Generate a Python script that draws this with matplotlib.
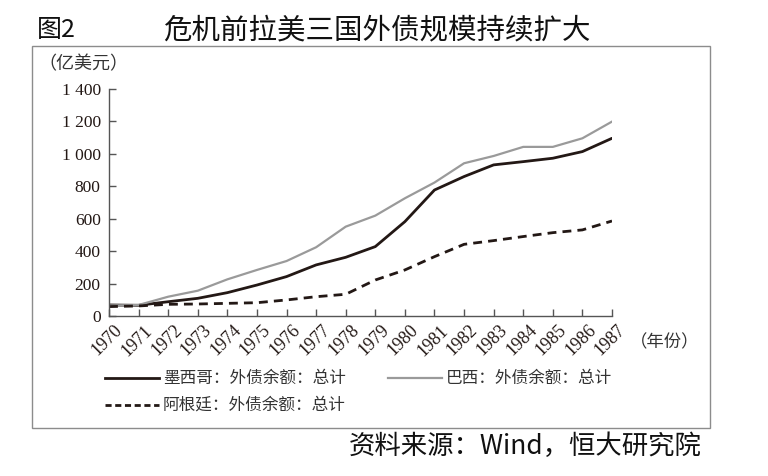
import matplotlib
matplotlib.use("Agg")
import matplotlib.pyplot as plt
from matplotlib.patches import Rectangle
from matplotlib.ticker import FuncFormatter
from matplotlib.transforms import ScaledTranslation

years = list(range(1970, 1988))
mexico = [68, 66, 88, 109, 144, 191, 243, 315, 362, 428, 582, 777, 860, 932, 952, 973, 1014, 1096]
brazil = [65, 68, 119, 156, 226, 284, 339, 424, 551, 619, 726, 823, 942, 987, 1043, 1043, 1096, 1199]
argentina = [58, 62, 72, 74, 78, 82, 99, 119, 134, 222, 284, 366, 442, 465, 490, 514, 531, 586]
yticks = [0, 200, 400, 600, 800, 1000, 1200, 1400]
labels = ["墨西哥：外债余额：总计", "巴西：外债余额：总计", "阿根廷：外债余额：总计"]
title_num = "图2"
title_text = "危机前拉美三国外债规模持续扩大"
unit = "（亿美元）"
xunit = "（年份）"
source = "资料来源：Wind，恒大研究院"

cjk = ["Noto Sans CJK SC", "DejaVu Sans"]
serif = ["Liberation Serif", "DejaVu Serif"]

W, H = 768, 476
fig = plt.figure(figsize=(W / 100, H / 100), dpi=100)

def fx(px):
    return px / W

def fy(py):
    return 1 - py / H

ax = fig.add_axes([fx(109), fy(316), fx(612) - fx(109), fy(89) - fy(316)])
ax.plot(years, mexico, color="#231815", lw=2.0, solid_capstyle="round", solid_joinstyle="round")
ax.plot(years, brazil, color="#9a9a9a", lw=1.6)
ax.plot(years, argentina, color="#231815", lw=2.0, dashes=(3.2, 2.2))

ax.set_xlim(1970, 1987)
ax.set_ylim(0, 1400)
ax.set_xticks(years)
ax.set_yticks(yticks)
ax.yaxis.set_major_formatter(FuncFormatter(lambda v, p: f"{int(v):,}".replace(",", " ")))
for s in ["top", "right"]:
    ax.spines[s].set_visible(False)
for s in ["left", "bottom"]:
    ax.spines[s].set_color("#555555")
    ax.spines[s].set_linewidth(1.0)
ax.tick_params(axis="both", direction="in", length=5, width=1.0, color="#555555")
ax.tick_params(axis="y", labelsize=12.5, pad=6)
ax.tick_params(axis="x", labelsize=13, pad=2)
for lab in ax.get_yticklabels():
    lab.set_fontfamily(serif)
    lab.set_color("#231815")
offset = ScaledTranslation(5 / 100, -3 / 100, fig.dpi_scale_trans)
for lab in ax.get_xticklabels():
    lab.set_fontfamily(serif)
    lab.set_rotation(45)
    lab.set_ha("right")
    lab.set_va("top")
    lab.set_rotation_mode("anchor")
    lab.set_color("#231815")
    lab.set_transform(lab.get_transform() + offset)

# frame
fig.patches.append(Rectangle((fx(32), fy(428)), fx(710) - fx(32), fy(46) - fy(428),
                             transform=fig.transFigure, fill=False, ec="#8c8c8c", lw=1.0))

fig.text(fx(37), fy(30), title_num, family=cjk, fontsize=18, va="center", ha="left", color="#111111")
fig.text(fx(163), fy(30), title_text, family=cjk, fontsize=20.5, va="center", ha="left", color="#111111")
fig.text(fx(38), fy(64), unit, family=cjk, fontsize=13, va="center", ha="left", color="#333333")
fig.text(fx(630), fy(342), xunit, family=cjk, fontsize=12.5, va="center", ha="left", color="#333333")
fig.text(fx(702), fy(446), source, family=cjk, fontsize=19, va="center", ha="right", color="#111111")

# legend
def leg(x0, y, color, lw, dashes, text):
    ln = plt.Line2D([fx(x0), fx(x0 + 54)], [fy(y), fy(y)], transform=fig.transFigure,
                    color=color, lw=lw)
    if dashes:
        ln.set_dashes(dashes)
    fig.lines.append(ln)
    fig.text(fx(x0 + 58), fy(y), text, family=cjk, fontsize=12, va="center", ha="left", color="#333333")

leg(105, 378, "#231815", 2.0, None, labels[0])
leg(388, 378, "#9a9a9a", 1.6, None, labels[1])
leg(105, 405, "#231815", 2.0, (2.2, 1.3), labels[2])

fig.savefig("out.png", dpi=100)
